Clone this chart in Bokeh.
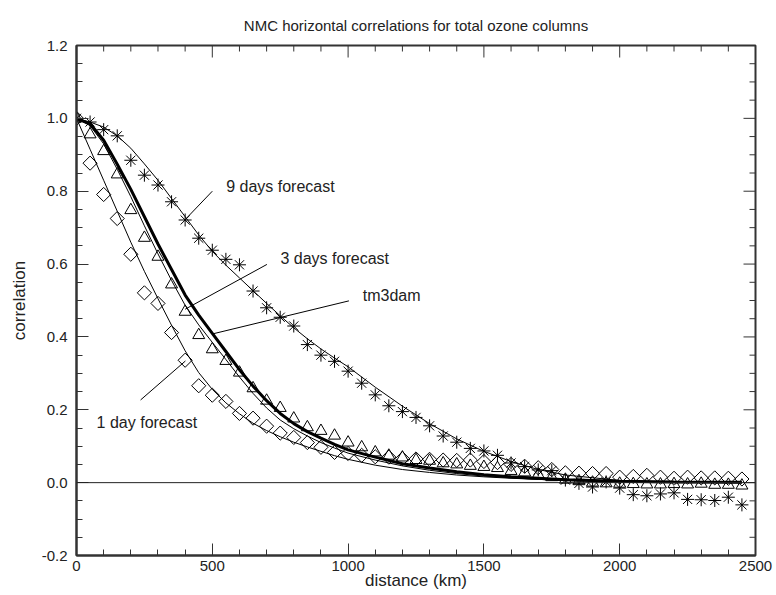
import numpy as np
from bokeh.plotting import figure
from bokeh.models import (ColumnDataSource, Range1d, FixedTicker, PrintfTickFormatter, Span)
from bokeh.embed import file_html
from bokeh.resources import INLINE
from bokeh.core.properties import value

# ---- sampled correlations (every 50 km) ----
distance_km = list(range(0, 2500, 50))

corr_1day = [1.000, 0.877, 0.791, 0.725, 0.627, 0.521, 0.492, 0.412, 0.336, 0.266,
             0.240, 0.223, 0.190, 0.177, 0.155, 0.136, 0.124, 0.110, 0.097, 0.083,
             0.080, 0.075, 0.071, 0.070, 0.066, 0.065, 0.064, 0.062, 0.061, 0.062,
             0.058, 0.055, 0.050, 0.045, 0.041, 0.036, 0.027, 0.026, 0.025, 0.025,
             0.015, 0.017, 0.020, 0.015, 0.012, 0.015, 0.013, 0.013, 0.012, 0.010]

corr_3day = [1.000, 0.956, 0.910, 0.846, 0.748, 0.672, 0.620, 0.544, 0.469, 0.405,
             0.366, 0.334, 0.302, 0.259, 0.225, 0.205, 0.176, 0.152, 0.142, 0.129,
             0.110, 0.097, 0.083, 0.074, 0.069, 0.062, 0.060, 0.053, 0.050, 0.046,
             0.043, 0.040, 0.032, 0.028, 0.022, 0.015, 0.008, 0.004, 0.000, -0.002,
             -0.003, -0.004, -0.005, -0.005, -0.004, -0.005, -0.003, -0.006, -0.006, -0.008]

corr_9day = [1.000, 0.990, 0.969, 0.952, 0.885, 0.844, 0.817, 0.771, 0.721, 0.671,
             0.638, 0.613, 0.598, 0.526, 0.480, 0.454, 0.430, 0.379, 0.350, 0.333,
             0.306, 0.273, 0.241, 0.211, 0.195, 0.179, 0.156, 0.128, 0.111, 0.094,
             0.087, 0.075, 0.054, 0.044, 0.035, 0.033, 0.007, -0.002, -0.012, 0.002,
             -0.015, -0.033, -0.036, -0.031, -0.028, -0.046, -0.047, -0.049, -0.040, -0.061]

# ---- fitted correlation functions ----
fit_km = [0, 50, 100, 150, 200, 250, 300, 350, 400, 450, 500, 550, 600, 650, 700, 750,
          800, 850, 900, 950, 1000, 1100, 1200, 1300, 1400, 1500, 1600, 1700, 1800,
          2000, 2200, 2450]

fit_1day = [1.000, 0.915, 0.830, 0.745, 0.660, 0.580, 0.505, 0.432, 0.362, 0.302,
            0.256, 0.219, 0.189, 0.163, 0.143, 0.126, 0.111, 0.098, 0.086, 0.074,
            0.064, 0.048, 0.036, 0.028, 0.021, 0.016, 0.012, 0.009, 0.006, 0.003,
            0.001, 0.000]

fit_3day = [1.000, 0.980, 0.930, 0.860, 0.785, 0.705, 0.628, 0.555, 0.487, 0.433,
            0.385, 0.338, 0.290, 0.245, 0.205, 0.172, 0.148, 0.128, 0.110, 0.095,
            0.081, 0.062, 0.046, 0.034, 0.025, 0.018, 0.013, 0.009, 0.006, 0.003,
            0.001, 0.000]

fit_tm3dam = [1.000, 0.985, 0.940, 0.874, 0.805, 0.730, 0.655, 0.585, 0.515, 0.460,
              0.410, 0.360, 0.310, 0.265, 0.225, 0.190, 0.162, 0.140, 0.122, 0.105,
              0.090, 0.070, 0.052, 0.040, 0.030, 0.022, 0.016, 0.012, 0.008, 0.004,
              0.002, 0.001]

fit_9day = [1.000, 0.990, 0.976, 0.952, 0.918, 0.875, 0.830, 0.780, 0.730, 0.680,
            0.635, 0.597, 0.562, 0.527, 0.492, 0.458, 0.425, 0.395, 0.367, 0.342,
            0.318, 0.262, 0.210, 0.162, 0.120, 0.086, 0.058, 0.036, 0.021, 0.006,
            0.001, 0.000]

# ---- axis ticks ----
x_major = [0, 500, 1000, 1500, 2000, 2500]
x_minor = [v for v in range(0, 2501, 100) if v % 500]
y_major = [-0.2, 0.0, 0.2, 0.4, 0.6, 0.8, 1.0, 1.2]
y_minor = [-0.15, -0.1, -0.05, 0.05, 0.1, 0.15, 0.25, 0.3, 0.35, 0.45, 0.5, 0.55,
           0.65, 0.7, 0.75, 0.85, 0.9, 0.95, 1.05, 1.1, 1.15]

# ---- curve labels with their pointer lines (data units) ----
label_text = ["9 days forecast", "3 days forecast", "tm3dam", "1 day forecast"]
label_x = [551, 751, 1054, 74]
label_y = [0.814, 0.614, 0.514, 0.165]
pointer_x0 = [400, 400, 505, 236]
pointer_y0 = [0.722, 0.476, 0.409, 0.227]
pointer_x1 = [500, 701, 1003, 401]
pointer_y1 = [0.800, 0.599, 0.499, 0.334]

FONT = "Liberation Sans"
INK = "#222222"
FRAME = "#333333"

X0, X1 = 0, 2500
Y0, Y1 = -0.2, 1.2
FRAME_W, FRAME_H = 679, 510   # plot area in pixels
MAJ_PX, MIN_PX = 12, 6        # inward tick lengths

p = figure(width=776, height=595,
           x_range=Range1d(X0, X1), y_range=Range1d(Y0, Y1),
           output_backend="svg", toolbar_location=None,
           min_border_left=76, min_border_right=21,
           min_border_top=45, min_border_bottom=40,
           title="NMC horizontal correlations for total ozone columns",
           x_axis_label="distance (km)", y_axis_label="correlation")

p.background_fill_color = "white"
p.border_fill_color = "white"
p.xgrid.visible = False
p.ygrid.visible = False
p.outline_line_color = FRAME
p.outline_line_width = 2

p.title.align = "center"
p.title.vertical_align = "top"
p.title.text_font = FONT
p.title.text_font_size = "15px"
p.title.text_font_style = "normal"
p.title.text_color = INK
p.title.standoff = 19


def style_axis(ax):
    ax.axis_line_color = FRAME
    ax.axis_line_width = 2
    ax.major_tick_in = MAJ_PX
    ax.major_tick_out = 0
    ax.minor_tick_in = MIN_PX
    ax.minor_tick_out = 0
    ax.major_tick_line_color = FRAME
    ax.minor_tick_line_color = FRAME
    ax.major_label_text_font = FONT
    ax.major_label_text_color = INK
    ax.major_label_text_font_size = "15px"
    ax.axis_label_text_font = FONT
    ax.axis_label_text_font_style = "normal"
    ax.axis_label_text_color = INK
    ax.axis_label_text_font_size = "17px"


xa = p.xaxis[0]
xa.ticker = FixedTicker(ticks=x_major, minor_ticks=x_minor)
style_axis(xa)
xa.major_label_standoff = 5
xa.axis_label_standoff = -3

ya = p.yaxis[0]
ya.ticker = FixedTicker(ticks=y_major, minor_ticks=y_minor)
ya.formatter = PrintfTickFormatter(format="%.1f")
style_axis(ya)
ya.major_label_standoff = 9
ya.axis_label_standoff = 10

# inward ticks on the top and right sides of the box
dx_maj = MAJ_PX * (X1 - X0) / FRAME_W
dx_min = MIN_PX * (X1 - X0) / FRAME_W
dy_maj = MAJ_PX * (Y1 - Y0) / FRAME_H
dy_min = MIN_PX * (Y1 - Y0) / FRAME_H
p.segment(x0=[X1] * len(y_major), y0=y_major, x1=[X1 - dx_maj] * len(y_major), y1=y_major,
          line_color=FRAME, line_width=1)
p.segment(x0=[X1] * len(y_minor), y0=y_minor, x1=[X1 - dx_min] * len(y_minor), y1=y_minor,
          line_color=FRAME, line_width=1)
p.segment(x0=x_major, y0=[Y1] * len(x_major), x1=x_major, y1=[Y1 - dy_maj] * len(x_major),
          line_color=FRAME, line_width=1)
p.segment(x0=x_minor, y0=[Y1] * len(x_minor), x1=x_minor, y1=[Y1 - dy_min] * len(x_minor),
          line_color=FRAME, line_width=1)

# zero reference line
p.add_layout(Span(location=0, dimension="width", line_color="#222222", line_width=1))

# fitted curves
fits = ColumnDataSource(dict(x=fit_km, f1=fit_1day, f3=fit_3day, tm=fit_tm3dam, f9=fit_9day))
p.line("x", "f1", source=fits, line_color="black", line_width=1)
p.line("x", "f3", source=fits, line_color="black", line_width=1)
p.line("x", "f9", source=fits, line_color="black", line_width=1)
p.line("x", "tm", source=fits, line_color="black", line_width=3)

# sampled correlations
obs = ColumnDataSource(dict(x=distance_km, d1=corr_1day, d3=corr_3day, d9=corr_9day))
p.scatter("x", "d1", source=obs, marker="square", angle=np.pi / 4, size=10,
          fill_color=None, line_color="black", line_width=1)
p.scatter("x", "d3", source=obs, marker="triangle", size=12,
          fill_color=None, line_color="black", line_width=1)
p.scatter("x", "d9", source=obs, marker="asterisk", size=13,
          line_color="black", line_width=1)

# labels and pointers
ann = ColumnDataSource(dict(x0=pointer_x0, y0=pointer_y0, x1=pointer_x1, y1=pointer_y1,
                            lx=label_x, ly=label_y, txt=label_text))
p.segment("x0", "y0", "x1", "y1", source=ann, line_color="black", line_width=1)
p.text("lx", "ly", text="txt", source=ann, text_font=value(FONT), text_font_size="16px",
       text_color=INK, text_baseline="middle", text_align="left")

open("out.html", "w").write(file_html(p, INLINE))
